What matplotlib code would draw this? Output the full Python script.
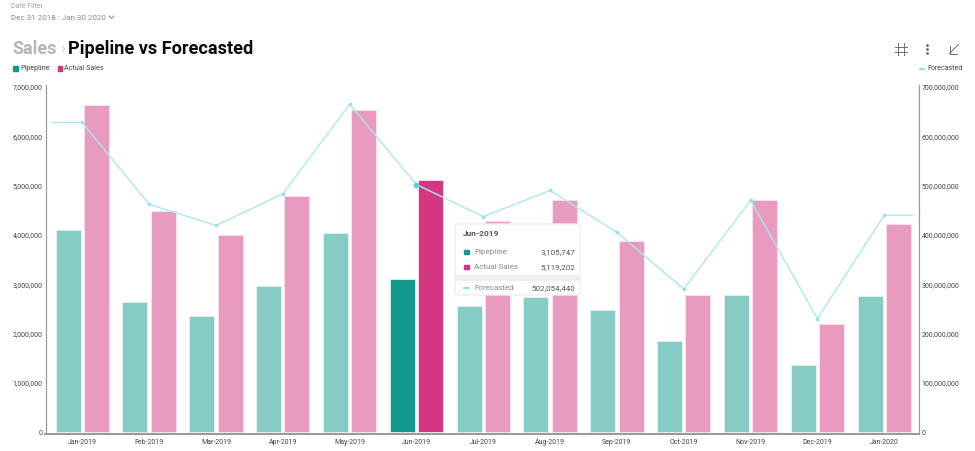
import matplotlib
matplotlib.use('Agg')
import matplotlib.pyplot as plt
from matplotlib.patches import FancyBboxPatch, Rectangle
from matplotlib.ticker import FuncFormatter
import numpy as np

plt.rcParams['font.family'] = ['Roboto', 'DejaVu Sans']

months = ['Jan-2019', 'Feb-2019', 'Mar-2019', 'Apr-2019', 'May-2019', 'Jun-2019', 'Jul-2019',
          'Aug-2019', 'Sep-2019', 'Oct-2019', 'Nov-2019', 'Dec-2019', 'Jan-2020']
pipeline = [4100000, 2630000, 2350000, 2960000, 4030000, 3105747, 2560000,
            2730000, 2470000, 1840000, 2770000, 1360000, 2760000]
actual_sales = [6630000, 4480000, 3990000, 4780000, 6530000, 5119202, 4290000,
                4700000, 3870000, 2770000, 4700000, 2200000, 4220000]
forecasted = [628000000, 462000000, 419000000, 483000000, 665000000, 502054440, 437000000,
              490000000, 405000000, 290000000, 470000000, 230000000, 440000000]
left_ticks = [0, 1000000, 2000000, 3000000, 4000000, 5000000, 6000000, 7000000]
right_ticks = [0, 100000000, 200000000, 300000000, 400000000, 500000000, 600000000, 700000000]
highlight = 5

W, H = 975, 451
TEAL = '#0F9A8D'
PINK = '#D43682'
TEAL_L = '#87CBC5'
PINK_L = '#E99ABF'
CYAN = '#A9E9EE'
GREY = '#9A9A9A'
TXT = '#555555'

fig = plt.figure(figsize=(W / 100, H / 100), dpi=100, facecolor='white')
ax = fig.add_axes([45.5 / W, 1 - 434 / H, (919 - 45.5) / W, (434 - 85) / H])
ax2 = ax.twinx()

x = np.arange(len(months))
w = 0.375
off = 0.212
colors1 = [TEAL if i == highlight else TEAL_L for i in x]
colors2 = [PINK if i == highlight else PINK_L for i in x]
ax.bar(x - off, pipeline, w, color=colors1, edgecolor='#E4F3F1', linewidth=0.6)
ax.bar(x + off, actual_sales, w, color=colors2, edgecolor='#FAE6EF', linewidth=0.6)

# flat stubs at both ends of the line, like the original
xs = [x[0] - 0.45] + list(x) + [x[-1] + 0.42]
ys = [forecasted[0]] + forecasted + [forecasted[-1]]
ax2.plot(xs, ys, color=CYAN, lw=1.0, zorder=5)
ax2.plot(x, forecasted, ls='none', marker='o', ms=1.6, color='#8FE3EA', zorder=6)
ax2.plot([x[highlight]], [forecasted[highlight]], ls='none', marker='o', ms=3.2, color='#5CCFD8', zorder=7)

ax.set_xlim(-0.55, 12.52)
ax.set_ylim(-40000, 7040000)
ax2.set_ylim(-4000000, 704000000)
ax.set_xticks(x)
ax.set_xticklabels(months)
ax.set_yticks(left_ticks)
ax2.set_yticks(right_ticks)
fmt = FuncFormatter(lambda v, p: f'{int(v):,}')
ax.yaxis.set_major_formatter(fmt)
ax2.yaxis.set_major_formatter(fmt)
for a in (ax, ax2):
    a.set_zorder(1)
    a.patch.set_visible(False)
    a.spines['top'].set_visible(False)
    a.spines['left'].set_color(GREY)
    a.spines['right'].set_color(GREY)
    a.spines['bottom'].set_color(GREY)
    a.spines['bottom'].set_linewidth(1.4)
    a.tick_params(axis='both', length=0, labelsize=5.0, labelcolor='#444444')
ax.tick_params(axis='x', pad=3.5)
ax.tick_params(axis='y', pad=2)
ax2.tick_params(axis='y', pad=2)

# overlay in pixel coordinates for the page furniture and the tooltip
ov = fig.add_axes([0, 0, 1, 1], zorder=10)
ov.set_xlim(0, W)
ov.set_ylim(H, 0)
ov.axis('off')

ov.text(11, 6.5, 'Date Filter', fontsize=5.0, color='#A0A0A0', va='center')
ov.text(11, 17.5, 'Dec 31 2018 : Jan 30 2020', fontsize=5.75, color='#8A8A8A', va='center')
ov.plot([109, 111.5, 114], [16, 18.5, 16], color='#8A8A8A', lw=0.7)

ov.text(12.5, 49.5, 'Sales', fontsize=13, color='#B5B5B5', va='center', weight='bold')
ov.plot([62.5, 64.5, 62.5], [46.5, 49, 51.5], color='#C4C4C4', lw=0.6)
ov.text(68.5, 49.5, 'Pipeline vs Forecasted', fontsize=13.1, color='#0A0A0A', va='center', weight='bold')

ov.add_patch(Rectangle((13, 66), 4.5, 4.5, color=TEAL))
ov.text(20, 68.8, 'Pipepline', fontsize=5.1, color='#444444', va='center')
ov.add_patch(Rectangle((57.5, 66), 4.5, 4.5, color=PINK))
ov.text(64, 68.8, 'Actual Sales', fontsize=5.1, color='#444444', va='center')
ov.plot([919.5, 924], [68.5, 68.5], color='#7FE0E8', lw=1.3)
ov.text(927, 68.8, 'Forecasted', fontsize=5.0, color='#444444', va='center')

# toolbar icons
ICON = '#6E6E6E'
for px in (897.5, 903.5):
    ov.plot([px, px], [43, 55], color=ICON, lw=0.7)
for py in (46.5, 51.5):
    ov.plot([894.5, 907], [py, py], color=ICON, lw=0.7)
ov.plot([927, 927, 927], [45, 49, 53], ls='none', marker='o', ms=1.0, color=ICON)
ov.plot([958.5, 949.5], [44.5, 53.5], color=ICON, lw=0.7)
ov.plot([949.5, 949.5, 957], [46, 53.5, 53.5], color=ICON, lw=0.7)

# tooltip
ov.add_patch(FancyBboxPatch((455, 224), 125, 71, boxstyle='round,pad=0,rounding_size=2.5',
                            fc='white', ec='#EEEEF2', lw=1.0))
ov.add_patch(Rectangle((455, 275), 125, 5.5, color='#EFF0F5', lw=0))
ov.text(463, 233.5, months[highlight], fontsize=6.0, color='#555555', va='center', weight='bold')
ov.add_patch(Rectangle((464, 249.5), 4.5, 4.5, color=TEAL))
ov.text(474, 252, 'Pipepline', fontsize=5.75, color='#8A8A8A', va='center')
ov.text(575, 252, f'{pipeline[highlight]:,}', fontsize=5.75, color=TXT, va='center', ha='right')
ov.add_patch(Rectangle((464, 264.5), 4.5, 4.5, color=PINK))
ov.text(474, 267, 'Actual Sales', fontsize=5.75, color='#8A8A8A', va='center')
ov.text(575, 267, f'{actual_sales[highlight]:,}', fontsize=5.75, color=TXT, va='center', ha='right')
ov.plot([464, 469], [288, 288], color='#7FE0E8', lw=1.3)
ov.text(474, 288, 'Forecasted', fontsize=5.75, color='#8A8A8A', va='center')
ov.text(575, 288, f'{forecasted[highlight]:,}', fontsize=5.75, color=TXT, va='center', ha='right')

fig.savefig('out.png', dpi=100)
